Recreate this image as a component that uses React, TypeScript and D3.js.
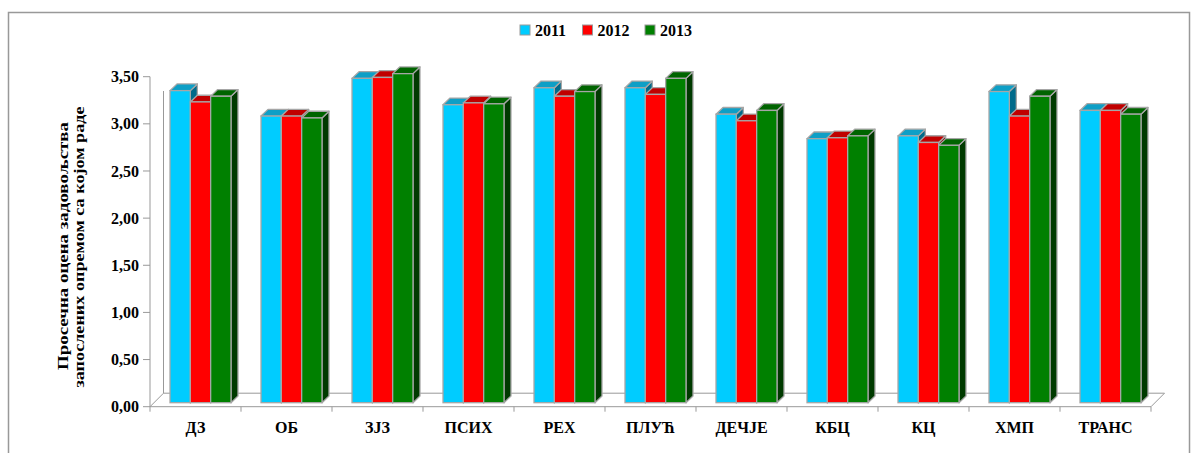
import React from "react";
import * as d3 from "d3";

const categories = ["ДЗ", "ОБ", "ЗЈЗ", "ПСИХ", "РЕХ", "ПЛУЋ", "ДЕЧЈЕ", "КБЦ", "КЦ", "ХМП", "ТРАНС"];
const seriesNames = ["2011", "2012", "2013"];
const values2011 = [3.31, 3.04, 3.44, 3.16, 3.34, 3.34, 3.06, 2.8, 2.83, 3.3, 3.1];
const values2012 = [3.19, 3.04, 3.45, 3.18, 3.25, 3.27, 2.99, 2.81, 2.76, 3.04, 3.1];
const values2013 = [3.25, 3.02, 3.49, 3.17, 3.3, 3.44, 3.1, 2.83, 2.73, 3.25, 3.06];
const yTicks = [0, 0.5, 1, 1.5, 2, 2.5, 3, 3.5];
const yTitle1 = "Просечна оцена задовољства";
const yTitle2 = "запослених опремом са којом раде";

const frontColors = ["#00CCFF", "#FF0000", "#008000"];
const topColors = ["#0E9FC6", "#C00000", "#006400"];
const sideColors = ["#006A8A", "#800000", "#003A00"];
const EDGE = "#A6A6A6";
const FONT = "'Liberation Serif', 'Times New Roman', serif";

export default function App() {
  const allSeries = [values2011, values2012, values2013];
  const x0 = d3.scaleBand<string>().domain(categories).range([150, 1151]).paddingInner(0).paddingOuter(0);
  const bw = x0.bandwidth();
  const x1 = d3.scaleBand<string>().domain(seriesNames).range([0.22 * bw, 0.89 * bw]).padding(0);
  const yAxis = d3.scaleLinear().domain([0, 3.5]).range([406.7, 76.7]);
  const yBar = d3.scaleLinear().domain([0, 3.5]).range([402.7, 72.7]);
  const dx = 7, dy = -6.7;
  const fdx = 13.5, fdy = -13.5;
  const fmt = (v: number) => v.toFixed(2).replace(".", ",");

  const bars: React.ReactNode[] = [];
  categories.forEach((c, ci) => {
    seriesNames.forEach((s, si) => {
      const v = allSeries[si][ci];
      const x = (x0(c) as number) + (x1(s) as number);
      const w = x1.bandwidth();
      const yt = yBar(v);
      const yb = yBar(0);
      const side = `${x + w},${yt} ${x + w + dx},${yt + dy} ${x + w + dx},${yb + dy} ${x + w},${yb}`;
      const top = `${x},${yt} ${x + dx},${yt + dy} ${x + w + dx},${yt + dy} ${x + w},${yt}`;
      bars.push(
        <g key={`${c}-${s}`}>
          <polygon points={side} fill={sideColors[si]} stroke={EDGE} strokeWidth={1.3} strokeLinejoin="round" />
          <polygon points={top} fill={topColors[si]} stroke={EDGE} strokeWidth={1.3} strokeLinejoin="round" />
          <rect x={x} y={yt} width={w} height={yb - yt} fill={frontColors[si]} stroke={EDGE} strokeWidth={1.3} />
        </g>
      );
    });
  });

  const xStart = x0.range()[0];
  const xEnd = x0.range()[1];
  const y0 = yAxis(0);

  return (
    <svg width={1198} height={453} style={{ position: "absolute", left: 0, top: 0, background: "#fff" }} fontFamily={FONT}>
      <rect x={8.5} y={12.5} width={1181} height={460} fill="#fff" stroke="#999" strokeWidth={1.5} />
      {/* legend */}
      {seriesNames.map((s, i) => {
        const lx = 520 + i * 62.5;
        return (
          <g key={s}>
            <rect x={lx} y={25} width={10} height={10} fill={frontColors[i]} stroke="#999" strokeWidth={1} />
            <text x={lx + 15} y={30} dy="0.35em" fontSize={16} fontWeight="bold" fill="#000">{s}</text>
          </g>
        );
      })}
      {/* walls and floor */}
      <line x1={xStart + fdx} y1={91} x2={xStart + fdx} y2={y0 + fdy} stroke="#999" strokeWidth={1} />
      <line x1={xStart} y1={y0} x2={xStart + fdx} y2={y0 + fdy} stroke="#999" strokeWidth={1} />
      <line x1={xStart + fdx} y1={y0 + fdy} x2={xEnd + fdx} y2={y0 + fdy} stroke="#999" strokeWidth={1} />
      <line x1={xEnd} y1={y0} x2={xEnd + fdx} y2={y0 + fdy} stroke="#999" strokeWidth={1} />
      {bars}
      {/* axes */}
      <line x1={xStart} y1={yAxis(3.5)} x2={xStart} y2={y0} stroke="#999" strokeWidth={1} />
      <line x1={xStart} y1={y0} x2={xEnd} y2={y0} stroke="#999" strokeWidth={1} />
      {yTicks.map((t) => (
        <g key={t}>
          <line x1={xStart - 7} y1={yAxis(t)} x2={xStart} y2={yAxis(t)} stroke="#999" strokeWidth={1} />
          <text x={139} y={yAxis(t)} dy="0.35em" textAnchor="end" fontSize={16} fontWeight="bold" fill="#000">{fmt(t)}</text>
        </g>
      ))}
      {[...categories.map((c) => x0(c) as number), xEnd].map((tx, i) => (
        <line key={i} x1={tx} y1={y0} x2={tx} y2={y0 + 5} stroke="#999" strokeWidth={1} />
      ))}
      {categories.map((c) => (
        <text key={c} x={(x0(c) as number) + bw / 2} y={427} dy="0.35em" textAnchor="middle" fontSize={16} fontWeight="bold" fill="#000">{c}</text>
      ))}
      <text transform="translate(63,246) rotate(-90)" textAnchor="middle" dy="0.35em" fontSize={15.5} fontWeight="bold" fill="#000" textLength={248} lengthAdjust="spacingAndGlyphs">{yTitle1}</text>
      <text transform="translate(78.5,247) rotate(-90)" textAnchor="middle" dy="0.35em" fontSize={15.5} fontWeight="bold" fill="#000" textLength={281} lengthAdjust="spacingAndGlyphs">{yTitle2}</text>
    </svg>
  );
}
